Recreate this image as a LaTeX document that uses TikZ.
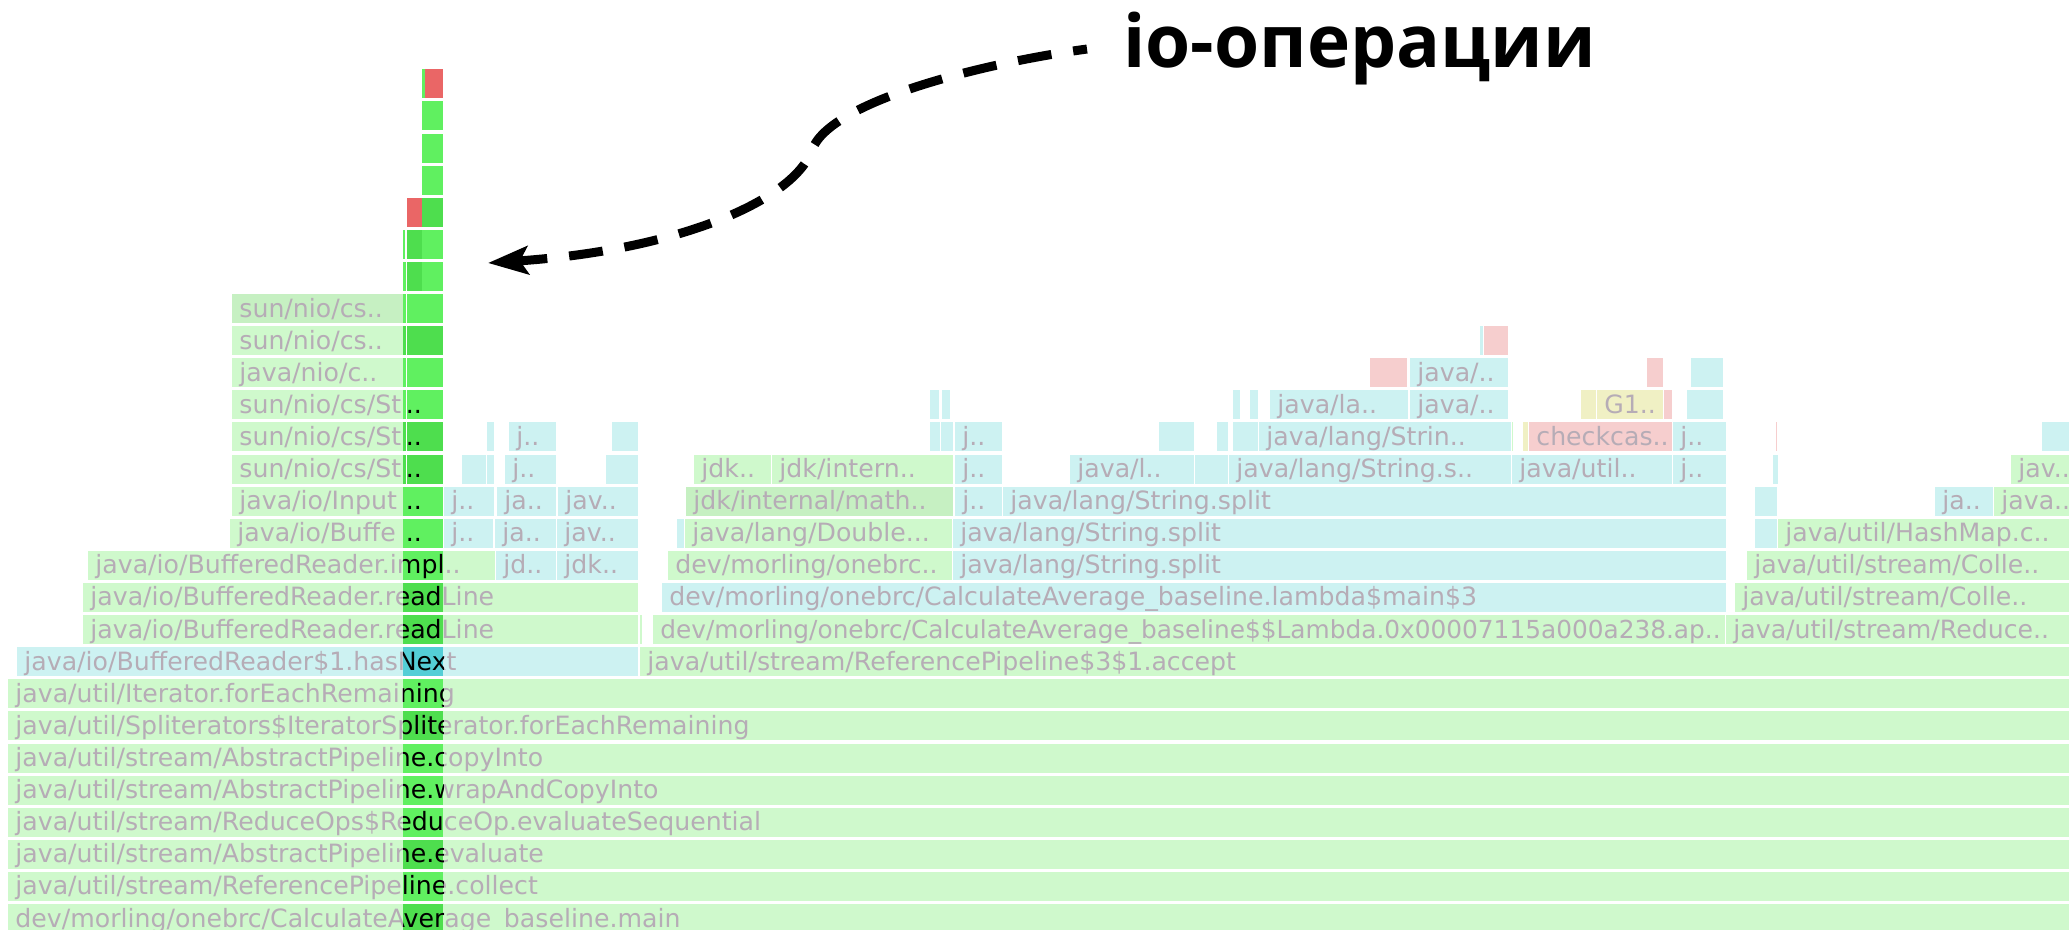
\documentclass[tikz,border=0pt]{standalone}
\usepackage{fontspec}
\setmainfont{DejaVu Sans}
\newfontfamily\titlefont{Open Sans}
\usetikzlibrary{arrows.meta}

% frame colours
\definecolor{pg}{RGB}{207,249,204}
\definecolor{pgd}{RGB}{198,240,194}
\definecolor{pb}{RGB}{205,242,242}
\definecolor{pp}{RGB}{246,206,206}
\definecolor{py}{RGB}{240,240,196}
\definecolor{cga}{RGB}{96,240,96}
\definecolor{cgb}{RGB}{78,222,78}
\definecolor{cte}{RGB}{84,206,214}
\definecolor{cre}{RGB}{234,102,102}
\definecolor{txtgray}{RGB}{182,172,182}

\newcounter{fbx}

% pale frame: row, x1, x2, fill, label
\newcommand\fgb[5]{%
  \pgfmathsetmacro\rowtop{904-32.1*#1}%
  \stepcounter{fbx}%
  \fill[#4] (#2,\rowtop) rectangle ({#3-1},{\rowtop+29});
  \begin{scope}
    \clip (#2,\rowtop) rectangle ({#3-1},{\rowtop+29});
    \node[lbl] (f\arabic{fbx}) at ({#2+7},{\rowtop+23}) {#5};
  \end{scope}}

% pale frame crossed by the highlighted column: row, x1, x2, fill, column fill, label
\newcommand\fgbc[6]{%
  \fgb{#1}{#2}{#3}{#4}{#6}%
  \pgfmathsetmacro\rowtop{904-32.1*#1}%
  \stepcounter{fbx}%
  \fill[#5] (403,\rowtop) rectangle (443,{\rowtop+29});
  \begin{scope}
    \clip (403,\rowtop) rectangle (443,{\rowtop+29});
    \node[lbl,text=black] (f\arabic{fbx}) at ({#2+7},{\rowtop+23}) {#6};
  \end{scope}}

% highlighted frame: row, x1, x2, fill, label
\newcommand\colseg[5]{%
  \pgfmathsetmacro\rowtop{904-32.1*#1}%
  \stepcounter{fbx}%
  \fill[#4] (#2,\rowtop) rectangle (#3,{\rowtop+29});
  \node[lbl,text=black] (f\arabic{fbx}) at ({#2+2.5},{\rowtop+23}) {#5};}

\begin{document}
\begin{tikzpicture}[x=0.5pt,y=-0.5pt,
  lbl/.style={anchor=base west,inner sep=0pt,text=txtgray,
    font=\fontsize{12.6}{14}\selectfont},
  title/.style={anchor=base west,inner sep=0pt,
    font=\titlefont\bfseries\fontsize{36.5}{40}\selectfont},
  ioarrow/.style={line width=4.5pt,dash pattern=on 17pt off 11pt,dash phase=10pt,
    -{Stealth[length=20pt,width=14pt,inset=4pt]}}]
\useasboundingbox (0,0) rectangle (2069,930);
\clip (0,0) rectangle (2069,930);

% ---- base of the stack
\fgbc{0}{8}{2075}{pg}{cgb}{dev/morling/onebrc/CalculateAverage\_baseline.main}
\fgbc{1}{8}{2075}{pg}{cga}{java/util/stream/ReferencePipeline.collect}
\fgbc{2}{8}{2075}{pg}{cgb}{java/util/stream/AbstractPipeline.evaluate}
\fgbc{3}{8}{2075}{pg}{cga}{java/util/stream/ReduceOps\$ReduceOp.evaluateSequential}
\fgbc{4}{8}{2075}{pg}{cga}{java/util/stream/AbstractPipeline.wrapAndCopyInto}
\fgbc{5}{8}{2075}{pg}{cga}{java/util/stream/AbstractPipeline.copyInto}
\fgbc{6}{8}{2075}{pg}{cgb}{java/util/Spliterators\$IteratorSpliterator.forEachRemaining}
\fgbc{7}{8}{2075}{pg}{cga}{java/util/Iterator.forEachRemaining}

% ---- row 8
\fgbc{8}{17}{639}{pb}{cte}{java/io/BufferedReader\$1.hasNext}
\fgb{8}{640}{2075}{pg}{java/util/stream/ReferencePipeline\$3\$1.accept}

% ---- row 9
\fgbc{9}{83}{639}{pg}{cgb}{java/io/BufferedReader.readLine}
\fgb{9}{640}{643}{pg}{}
\fgb{9}{653}{1726}{pg}{\fontsize{12.4}{14}\selectfont dev/morling/onebrc/CalculateAverage\_baseline\$\$Lambda.0x00007115a000a238.ap..}
\fgb{9}{1726}{2075}{pg}{java/util/stream/Reduce..}

% ---- row 10
\fgbc{10}{83}{639}{pg}{cgb}{java/io/BufferedReader.readLine}
\fgb{10}{662}{1727}{pb}{dev/morling/onebrc/CalculateAverage\_baseline.lambda\$main\$3}
\fgb{10}{1735}{2075}{pg}{java/util/stream/Colle..}

% ---- row 11
\fgbc{11}{88}{496}{pg}{cga}{java/io/BufferedReader.impl..}
\fgb{11}{496}{557}{pb}{jd..}
\fgb{11}{557}{639}{pb}{jdk..}
\fgb{11}{668}{953}{pg}{dev/morling/onebrc..}
\fgb{11}{953}{1727}{pb}{java/lang/String.split}
\fgb{11}{1747}{2075}{pg}{java/util/stream/Colle..}

% ---- row 12
\fgb{12}{230}{404}{pg}{java/io/Buffe}
\colseg{12}{403}{443}{cga}{..}
\fgb{12}{444}{494}{pb}{j..}
\fgb{12}{495}{557}{pb}{ja..}
\fgb{12}{557}{639}{pb}{jav..}
\fgb{12}{677}{685}{pb}{}
\fgb{12}{685}{953}{pg}{java/lang/Double...}
\fgb{12}{953}{1727}{pb}{java/lang/String.split}
\fgb{12}{1755}{1778}{pb}{}
\fgb{12}{1778}{2075}{pg}{java/util/HashMap.c..}

% ---- row 13
\fgb{13}{232}{404}{pg}{java/io/Input}
\colseg{13}{403}{443}{cga}{..}
\fgb{13}{444}{495}{pb}{j..}
\fgb{13}{497}{557}{pb}{ja..}
\fgb{13}{558}{639}{pb}{jav..}
\fgb{13}{686}{954}{pgd}{jdk/internal/math..}
\fgb{13}{955}{1003}{pb}{j..}
\fgb{13}{1003}{1727}{pb}{java/lang/String.split}
\fgb{13}{1755}{1778}{pb}{}
\fgb{13}{1935}{1994}{pb}{ja..}
\fgb{13}{1994}{2075}{pg}{java..}

% ---- row 14
\fgb{14}{232}{404}{pg}{sun/nio/cs/St}
\colseg{14}{403}{406}{cgb}{}
\colseg{14}{407}{421.7}{cgb}{}
\colseg{14}{421.7}{443}{cgb}{}
\colseg{14}{403}{403}{cgb}{..}
\fgb{14}{462}{487}{pb}{}
\fgb{14}{487}{495}{pb}{}
\fgb{14}{505}{557}{pb}{j..}
\fgb{14}{606}{639}{pb}{}
\fgb{14}{694}{772}{pg}{jdk..}
\fgb{14}{772}{954}{pg}{jdk/intern..}
\fgb{14}{955}{1003}{pb}{j..}
\fgb{14}{1070}{1195}{pb}{java/l..}
\fgb{14}{1195}{1229}{pb}{}
\fgb{14}{1229}{1512}{pb}{java/lang/String.s..}
\fgb{14}{1512}{1673}{pb}{java/util..}
\fgb{14}{1673}{1727}{pb}{j..}
\fgb{14}{1773}{1779}{pb}{}
\fgb{14}{2011}{2075}{pg}{jav..}

% ---- row 15
\fgb{15}{232}{404}{pg}{sun/nio/cs/St}
\colseg{15}{403}{406}{cgb}{}
\colseg{15}{407}{421.7}{cgb}{}
\colseg{15}{421.7}{443}{cgb}{}
\colseg{15}{403}{403}{cgb}{..}
\fgb{15}{487}{495}{pb}{}
\fgb{15}{509}{557}{pb}{j..}
\fgb{15}{612}{639}{pb}{}
\fgb{15}{930}{941}{pb}{}
\fgb{15}{941}{954}{pb}{}
\fgb{15}{955}{1003}{pb}{j..}
\fgb{15}{1159}{1195}{pb}{}
\fgb{15}{1217}{1229}{pb}{}
\fgb{15}{1233}{1259}{pb}{}
\fgb{15}{1259}{1512}{pb}{java/lang/Strin..}
\fgb{15}{1512}{1514}{pg}{}
\fgb{15}{1523}{1529}{py}{}
\fgb{15}{1529}{1673}{pp}{checkcas..}
\fgb{15}{1673}{1727}{pb}{j..}
\fgb{15}{1776}{1778}{pp}{}
\fgb{15}{2042}{2075}{pb}{}

% ---- row 16
\fgb{16}{232}{404}{pg}{sun/nio/cs/St}
\colseg{16}{403}{406}{cga}{}
\colseg{16}{407}{421.7}{cga}{}
\colseg{16}{421.7}{443}{cga}{}
\colseg{16}{403}{403}{cga}{..}
\fgb{16}{930}{940}{pb}{}
\fgb{16}{942}{951}{pb}{}
\fgb{16}{1233}{1241}{pb}{}
\fgb{16}{1250}{1259}{pb}{}
\fgb{16}{1270}{1409}{pb}{java/la..}
\fgb{16}{1410}{1509}{pb}{java/..}
\fgb{16}{1581}{1597}{py}{}
\fgb{16}{1597}{1664}{py}{G1..}
\fgb{16}{1664}{1673}{pp}{}
\fgb{16}{1687}{1724}{pb}{}

% ---- row 17
\fgb{17}{232}{404}{pg}{java/nio/c..}
\colseg{17}{403}{406}{cga}{}
\colseg{17}{407}{421.7}{cga}{}
\colseg{17}{421.7}{443}{cga}{}
\fgb{17}{1370}{1408}{pp}{}
\fgb{17}{1410}{1509}{pb}{java/..}
\fgb{17}{1647}{1664}{pp}{}
\fgb{17}{1691}{1724}{pb}{}

% ---- row 18
\fgb{18}{232}{404}{pg}{sun/nio/cs..}
\colseg{18}{403}{406}{cgb}{}
\colseg{18}{407}{421.7}{cgb}{}
\colseg{18}{421.7}{443}{cgb}{}
\fgb{18}{1480}{1484}{pb}{}
\fgb{18}{1484}{1509}{pp}{}

% ---- row 19
\fgb{19}{232}{404}{pgd}{sun/nio/cs..}
\colseg{19}{403}{406}{cga}{}
\colseg{19}{407}{421.7}{cga}{}
\colseg{19}{421.7}{443}{cga}{}

% ---- top of the highlighted tower
\colseg{20}{403}{406}{cga}{}
\colseg{20}{407}{421.7}{cgb}{}
\colseg{20}{421.7}{443}{cga}{}
\colseg{21}{403}{405}{cga}{}
\colseg{21}{407}{421.7}{cgb}{}
\colseg{21}{421.7}{443}{cga}{}
\colseg{22}{407}{421.7}{cre}{}
\colseg{22}{421.7}{443}{cgb}{}
\colseg{23}{421.7}{443}{cga}{}
\colseg{24}{421.7}{443}{cga}{}
\colseg{25}{421.7}{443}{cga}{}
\colseg{26}{421.7}{425}{cga}{}
\colseg{26}{425}{443}{cre}{}

% ---- annotation
\node[title] (title) at (1123,68) {io-операции};
\coordinate (tip) at (488,263);
\draw[ioarrow] ([xshift=-18pt]title.west)
  .. controls (990,62) and (830,100) .. (812,150)
  .. controls (794,200) and (680,250) .. (tip);
\end{tikzpicture}
\end{document}
